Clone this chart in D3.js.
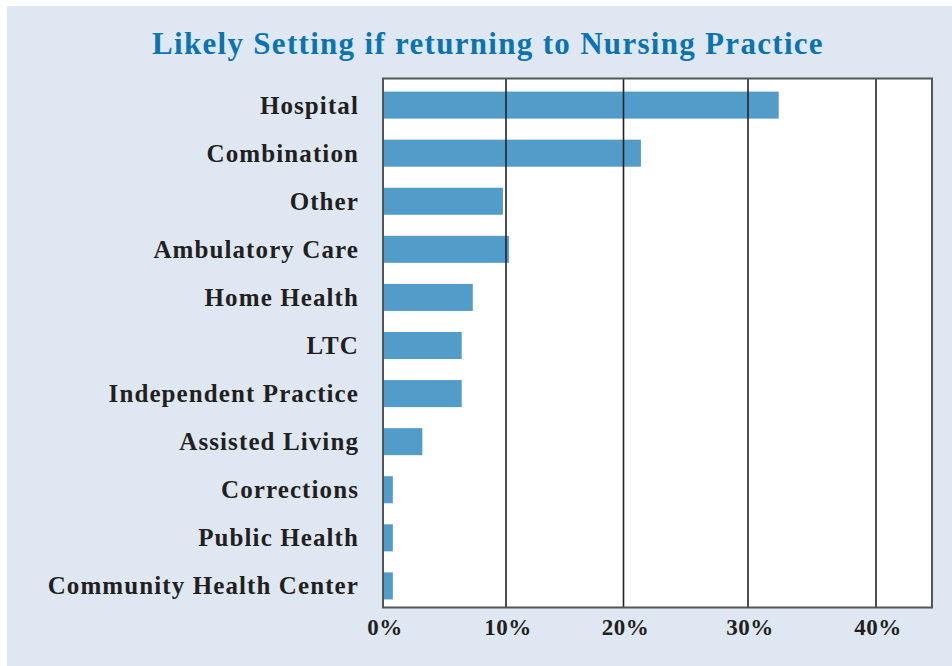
<!DOCTYPE html>
<html>
<head>
<meta charset="utf-8">
<script src="https://cdn.jsdelivr.net/npm/d3@7"></script>
<style>
  body { margin: 0; background: #fff; }
  svg { display: block; }
</style>
</head>
<body>
<svg class="main"></svg>
<script>
let categories = ['Hospital', 'Combination', 'Other', 'Ambulatory Care', 'Home Health', 'LTC',
  'Independent Practice', 'Assisted Living', 'Corrections', 'Public Health', 'Community Health Center'];
let values = [32.4, 21.4, 9.75, 10.25, 7.3, 6.4, 6.4, 3.2, 0.8, 0.8, 0.8];
let tickValues = [0, 10, 20, 30, 40];
let title = 'Likely Setting if returning to Nursing Practice';

let w = 952, h = 666;
let plotLeft = 383, plotRight = 932, plotTop = 78.5, plotBottom = 607.5;
let font = '"Liberation Serif", "DejaVu Serif", serif';

let svg = d3.select('.main')
  .attr('width', w)
  .attr('height', h);

// background panel
svg.append('rect')
  .attr('x', 7).attr('y', 6)
  .attr('width', w - 7).attr('height', h - 6)
  .attr('fill', '#dfe8f2');

svg.append('text')
  .attr('x', 488).attr('y', 54)
  .attr('text-anchor', 'middle')
  .attr('font-family', font)
  .attr('font-weight', 'bold')
  .attr('font-size', 31)
  .attr('letter-spacing', 1.3)
  .attr('fill', '#0b74b0')
  .text(title);

// the printed axis is slightly uneven, so follow the gridlines as drawn
let x = d3.scaleLinear().domain(tickValues).range([plotLeft, 506, 623.5, 748, 876]);
let y = d3.scaleBand().domain(categories).range([81, 610]).paddingInner(0.4375).paddingOuter(0.22);

// plot area
svg.append('rect')
  .attr('x', plotLeft).attr('y', plotTop)
  .attr('width', plotRight - plotLeft).attr('height', plotBottom - plotTop)
  .attr('fill', '#fff');

svg.append('g')
  .selectAll('rect')
  .data(values)
  .enter()
  .append('rect')
  .attr('x', x(0))
  .attr('y', (d, i) => y(categories[i]))
  .attr('width', d => x(d) - x(0))
  .attr('height', y.bandwidth())
  .attr('fill', '#529cca');

// grid lines
svg.append('g')
  .selectAll('line')
  .data(tickValues.slice(1))
  .enter()
  .append('line')
  .attr('x1', d => x(d)).attr('x2', d => x(d))
  .attr('y1', plotTop).attr('y2', plotBottom)
  .attr('stroke', '#222')
  .attr('stroke-width', 1.6);

svg.append('rect')
  .attr('x', plotLeft).attr('y', plotTop)
  .attr('width', plotRight - plotLeft).attr('height', plotBottom - plotTop)
  .attr('fill', 'none')
  .attr('stroke', '#555')
  .attr('stroke-width', 2);

// category labels
svg.append('g')
  .selectAll('text')
  .data(categories)
  .enter()
  .append('text')
  .attr('x', 359)
  .attr('y', d => y(d) + y.bandwidth() / 2 + 8.5)
  .attr('text-anchor', 'end')
  .attr('font-family', font)
  .attr('font-weight', 'bold')
  .attr('font-size', 25)
  .attr('letter-spacing', 1.1)
  .attr('fill', '#231f20')
  .text(d => d);

// x tick labels
svg.append('g')
  .selectAll('text')
  .data(tickValues)
  .enter()
  .append('text')
  .attr('x', d => x(d) + 2)
  .attr('y', 635)
  .attr('text-anchor', 'middle')
  .attr('font-family', font)
  .attr('font-weight', 'bold')
  .attr('font-size', 23)
  .attr('letter-spacing', 0.5)
  .attr('fill', '#231f20')
  .text(d => d + '%');
</script>
</body>
</html>
